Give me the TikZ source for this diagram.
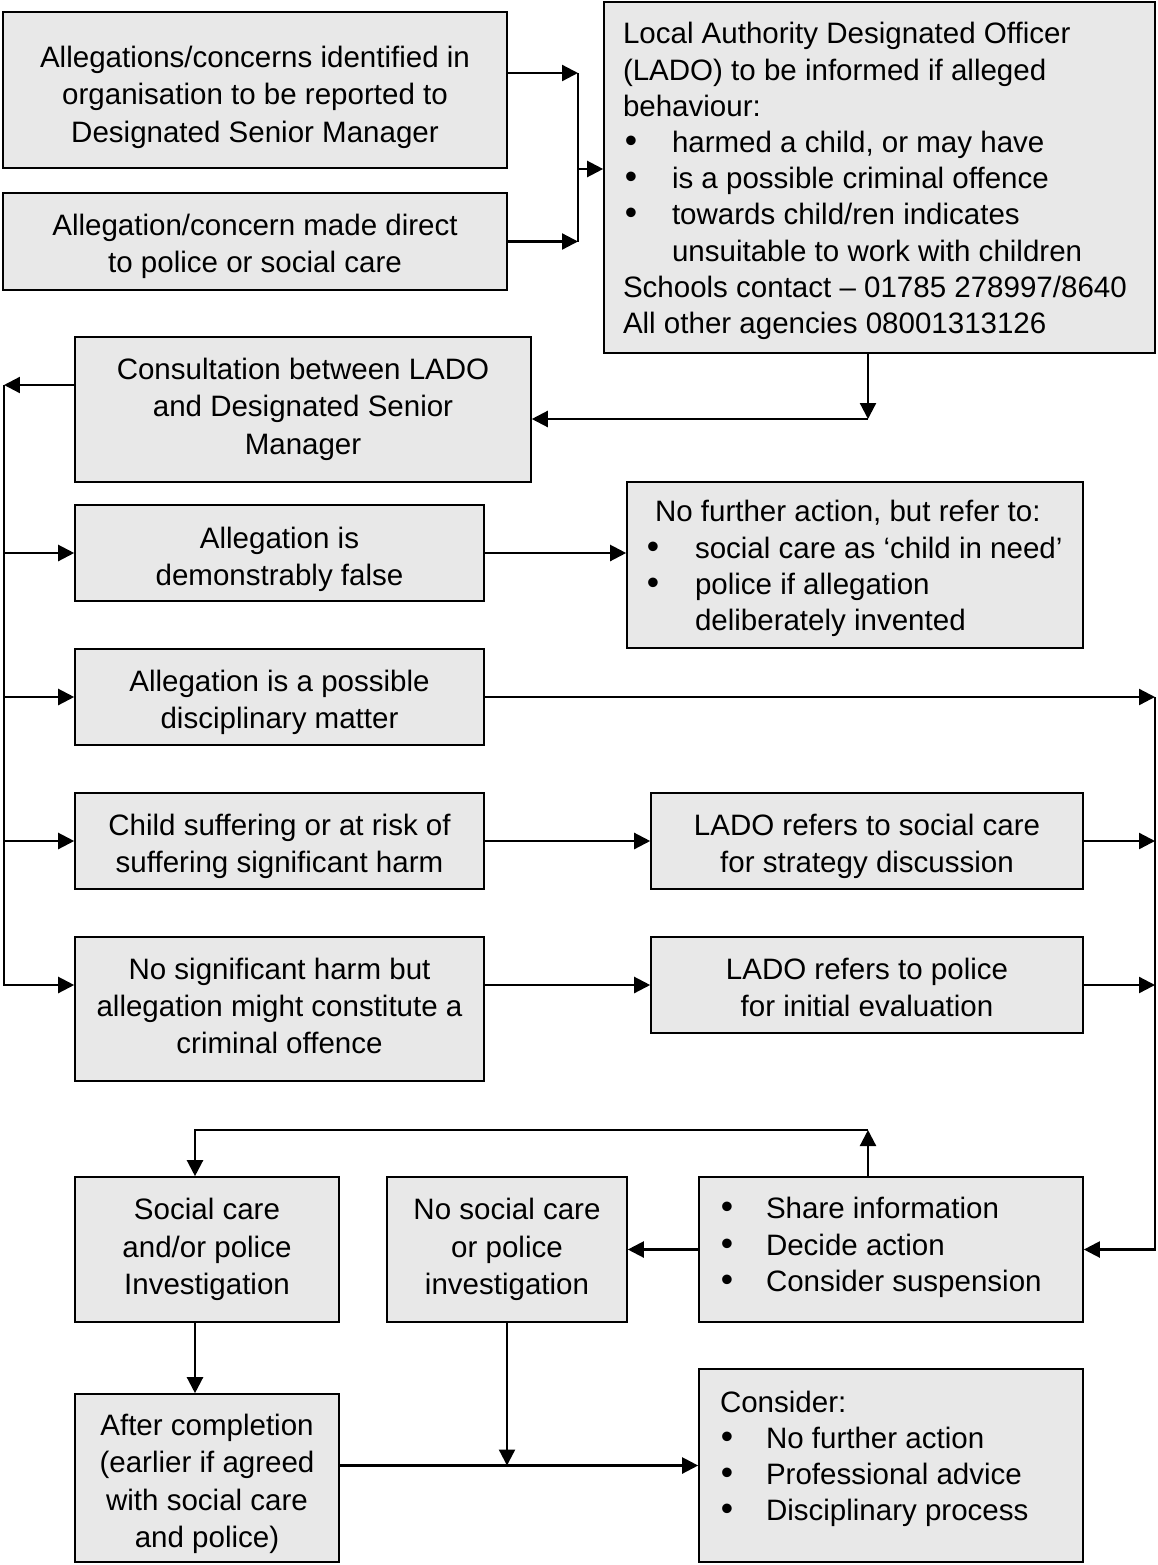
\documentclass[tikz,border=0pt]{standalone}
\usepackage{fontspec}
\setmainfont{Liberation Sans}
\usetikzlibrary{arrows.meta}
\newlength{\pxu}\setlength{\pxu}{0.02cm}
\newcommand{\bl}[2]{\hspace*{#1\pxu}\makebox[0pt]{\fontsize{20pt}{20pt}\selectfont\textbullet}\hspace*{#2\pxu}}
\newcommand{\ctab}[2][0]{\raisebox{-#1\pxu}[\height][\depth]{\begin{tabular}{@{}c@{}}#2\end{tabular}}}
\newcommand{\ltab}[3][0]{\raisebox{-#1\pxu}[\height][\depth]{\makebox[#2\pxu][l]{\begin{tabular}{@{}l@{}}#3\end{tabular}}}}
\definecolor{boxgray}{RGB}{232,232,232}
\begin{document}
\begin{tikzpicture}[x=0.02cm,y=-0.02cm,
  box/.style={draw, line width=0.95pt, fill=boxgray, inner sep=0pt,
    font=\fontsize{16.8pt}{21.3pt}\selectfont},
  lbox/.style={box, font=\fontsize{16.8pt}{20.6pt}\selectfont},
  conn/.style={line width=1.3pt},
  arr/.style={conn, -{Triangle[length=0.32cm,width=0.32cm]}}]
\useasboundingbox (0,0) rectangle (1157,1565);

% boxes
\node[box, minimum width=10.08cm, minimum height=3.12cm] (A) at (255,90)
  {\ctab[7.5]{Allegations/concerns identified in\\organisation to be reported to\\Designated Senior Manager}};
\node[box, minimum width=10.08cm, minimum height=1.94cm] (B) at (255,241.5)
  {\ctab[5]{Allegation/concern made direct\\to police or social care}};
\node[lbox, minimum width=11.02cm, minimum height=7.02cm, inner xsep=0.38cm] (lado) at (879.5,177.5)
  {\ltab[4]{513}{Local Authority Designated Officer\\(LADO) to be informed if alleged\\behaviour:\\
   \bl{8}{41}harmed a child, or may have\\
   \bl{8}{41}is a possible criminal offence\\
   \bl{8}{41}towards child/ren indicates\\
   \hspace*{49\pxu}unsuitable to work with children\\
   Schools contact – 01785 278997/8640\\All other agencies 08001313126}};
\node[box, minimum width=9.12cm, minimum height=2.9cm] (cons) at (303,409.5)
  {\ctab{Consultation between LADO\\and Designated Senior\\Manager}};
\node[box, minimum width=8.18cm, minimum height=1.92cm] (false) at (279.5,553)
  {\ctab[6.5]{Allegation is\\demonstrably false}};
\node[lbox, minimum width=9.12cm, minimum height=3.32cm, inner xsep=0.56cm] (nfa) at (855,565)
  {\ltab[4]{400}{No further action, but refer to:\\
   \bl{-2}{42}social care as ‘child in need’\\
   \bl{-2}{42}police if allegation\\
   \hspace*{40\pxu}deliberately invented}};
\node[box, minimum width=8.18cm, minimum height=1.92cm] (disc) at (279.5,697)
  {\ctab[5.5]{Allegation is a possible\\disciplinary matter}};
\node[box, minimum width=8.18cm, minimum height=1.92cm] (child) at (279.5,841)
  {\ctab[5.5]{Child suffering or at risk of\\suffering significant harm}};
\node[box, minimum width=8.64cm, minimum height=1.92cm] (soc) at (867,841)
  {\ctab[5.5]{LADO refers to social care\\for strategy discussion}};
\node[box, minimum width=8.18cm, minimum height=2.88cm] (nosig) at (279.5,1009)
  {\ctab{No significant harm but\\allegation might constitute a\\criminal offence}};
\node[box, minimum width=8.64cm, minimum height=1.92cm] (pol) at (867,985)
  {\ctab[5.5]{LADO refers to police\\for initial evaluation}};
\node[box, minimum width=5.28cm, minimum height=2.9cm] (scare) at (207,1249.5)
  {\ctab{Social care\\and/or police\\Investigation}};
\node[box, minimum width=4.8cm, minimum height=2.9cm] (nosoc) at (507,1249.5)
  {\ctab{No social care\\or police\\investigation}};
\node[lbox, minimum width=7.68cm, minimum height=2.9cm, inner xsep=0.42cm] (share) at (891,1249.5)
  {\ltab[4]{342}{\bl{7}{39}Share information\\
   \bl{7}{39}Decide action\\
   \bl{7}{39}Consider suspension\rule[-22\pxu]{0pt}{0pt}}};
\node[box, minimum width=5.28cm, minimum height=3.36cm] (after) at (207,1478)
  {\ctab[6]{After completion\\(earlier if agreed\\with social care\\and police)}};
\node[lbox, minimum width=7.68cm, minimum height=3.86cm, inner xsep=0.42cm] (consider) at (891,1465.5)
  {\ltab[3]{342}{Consider:\\
   \bl{7}{39}No further action\\
   \bl{7}{39}Professional advice\\
   \bl{7}{39}Disciplinary process\rule[-29\pxu]{0pt}{0pt}}};

% junction points
\coordinate (ja1) at (578,73);
\coordinate (ja2) at (578,241.5);
\coordinate (jm) at (578,169);
\coordinate (jl) at (868,419);
\coordinate (sp0) at (4,385);
\coordinate (sp4) at (4,985);
\coordinate (sr0) at (1155,697);
\coordinate (sr3) at (1155,1249.5);
\coordinate (js) at (868,1130);
\coordinate (jc) at (195,1130);
\coordinate (jn) at (507,1465.5);

% connectors
\draw[arr] (A.east |- ja1) -- (ja1);
\draw[arr] (B.east) -- (ja2);
\draw[conn] (ja1) -- (ja2);
\draw[arr] (jm) -- (lado.west |- jm);

\draw[arr] (lado.south -| jl) -- (jl);
\draw[arr] (jl) -- (cons.east |- jl);

\draw[arr] (cons.west |- sp0) -- (sp0);
\draw[arr] (sp0) -- (sp4) -- (nosig.west |- sp4);
\draw[arr] (sp0 |- false) -- (false.west);
\draw[arr] (sp0 |- disc) -- (disc.west);
\draw[arr] (sp0 |- child) -- (child.west);

\draw[arr] (false.east) -- (nfa.west |- false);
\draw[arr] (disc.east) -- (sr0);
\draw[arr] (child.east) -- (soc.west);
\draw[arr] (soc.east) -- (sr0 |- soc);
\draw[arr] (nosig.east |- pol) -- (pol.west);
\draw[arr] (pol.east) -- (sr0 |- pol);
\draw[arr] (sr0) -- (sr3) -- (share.east);

\draw[arr] (share.north -| js) -- (js);
\draw[arr] (js) -- (jc) -- (scare.north -| jc);
\draw[arr] (share.west) -- (nosoc.east);
\draw[arr] (scare.south -| jc) -- (after.north -| jc);
\draw[arr] (nosoc.south) -- (jn);
\draw[arr] (after.east |- consider) -- (consider.west);
\end{tikzpicture}
\end{document}
